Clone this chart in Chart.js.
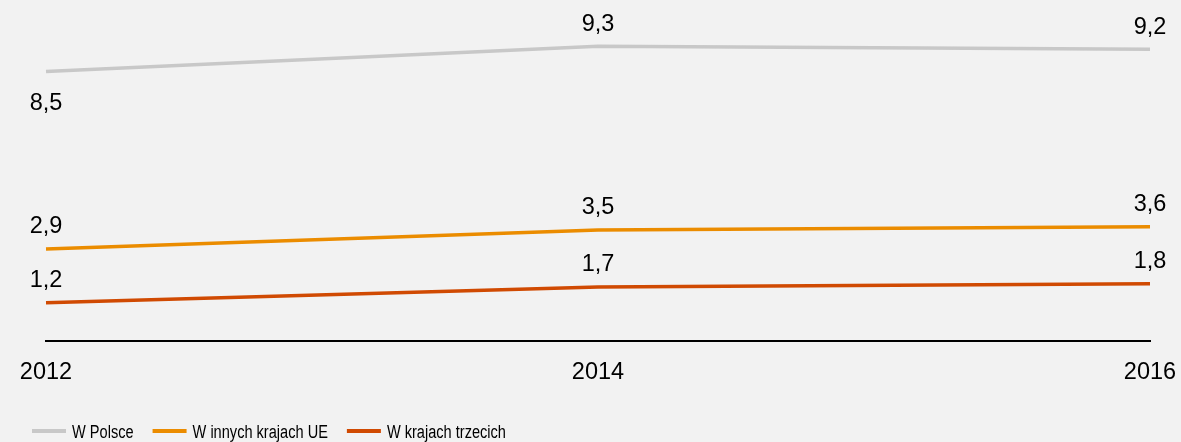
<!DOCTYPE html>
<html>
<head>
<meta charset="utf-8">
<script src="https://cdn.jsdelivr.net/npm/chart.js@4"></script>
<style>
  html, body { margin: 0; padding: 0; background: #f2f2f2; }
  #wrap { width: 1181px; height: 442px; }
</style>
</head>
<body>
<div id="wrap"><canvas id="line-chart"></canvas></div>
<script>
(function(Chart) {
    var years = ['2012', '2014', '2016'];
    var seriesNames = ['W Polsce', 'W innych krajach UE', 'W krajach trzecich'];
    var wPolsce = [8.5, 9.3, 9.2];
    var wInnychUE = [2.9, 3.5, 3.6];
    var wTrzecich = [1.2, 1.7, 1.8];

    var colors = ['#c8c8c8', '#eb8c00', '#d04a02'];
    // where the value label sits relative to each point
    var labelSide = [
        ['below', 'above', 'above'],
        ['above', 'above', 'above'],
        ['above', 'above', 'above']
    ];

    var font = '"Liberation Sans", Arial, sans-serif';

    var valueLabels = {
        id: 'valueLabels',
        afterDatasetsDraw: function(chart) {
            var ctx = chart.ctx;
            ctx.save();
            ctx.font = '23.5px ' + font;
            ctx.fillStyle = '#000';
            ctx.textAlign = 'center';
            ctx.textBaseline = 'middle';
            chart.data.datasets.forEach(function(ds, i) {
                chart.getDatasetMeta(i).data.forEach(function(pt, j) {
                    var dy = labelSide[i][j] === 'below' ? 32 : -22;
                    ctx.fillText(String(ds.data[j]).replace('.', ','), pt.x, pt.y + dy);
                });
            });
            ctx.restore();
        }
    };

    // legend text in the original is a narrow face, so squeeze it
    var squeeze = 0.81;
    var bottomLegend = {
        id: 'bottomLegend',
        afterDraw: function(chart) {
            var ctx = chart.ctx;
            var x = 32, y = 431;
            ctx.save();
            ctx.font = '18px ' + font;
            ctx.textBaseline = 'middle';
            chart.data.datasets.forEach(function(ds) {
                ctx.fillStyle = ds.borderColor;
                ctx.fillRect(x, y - 2, 34, 4);
                x += 40;
                ctx.fillStyle = '#000';
                ctx.save();
                ctx.translate(x, y + 2);
                ctx.scale(squeeze, 1);
                ctx.fillText(ds.label, 0, 0);
                ctx.restore();
                x += ctx.measureText(ds.label).width * squeeze + 19;
            });
            ctx.restore();
        }
    };

    var values = [wPolsce, wInnychUE, wTrzecich];

    new Chart(document.getElementById('line-chart'), {
        type: 'line',
        data: {
            labels: years,
            datasets: values.map(function(v, i) {
                return {
                    label: seriesNames[i],
                    data: v,
                    borderColor: colors[i],
                    backgroundColor: colors[i],
                    borderWidth: 3.5,
                    pointRadius: 0,
                    tension: 0,
                    fill: false
                };
            })
        },
        options: {
            responsive: true,
            maintainAspectRatio: false,
            animation: false,
            layout: { padding: { left: 46, right: 31, top: 24, bottom: 37 } },
            plugins: {
                legend: { display: false },
                tooltip: { enabled: false }
            },
            scales: {
                x: {
                    offset: false,
                    grid: { display: false, drawTicks: false },
                    border: { display: true, color: '#000', width: 2 },
                    ticks: {
                        color: '#000',
                        padding: 18,
                        maxRotation: 0,
                        font: { family: font, size: 23.5 }
                    },
                    afterFit: function(scale) {
                        scale.paddingLeft = 0;
                        scale.paddingRight = 0;
                    }
                },
                y: {
                    display: false,
                    min: 0,
                    max: 10
                }
            }
        },
        plugins: [valueLabels, bottomLegend]
    });
})(Chart);
</script>
</body>
</html>
